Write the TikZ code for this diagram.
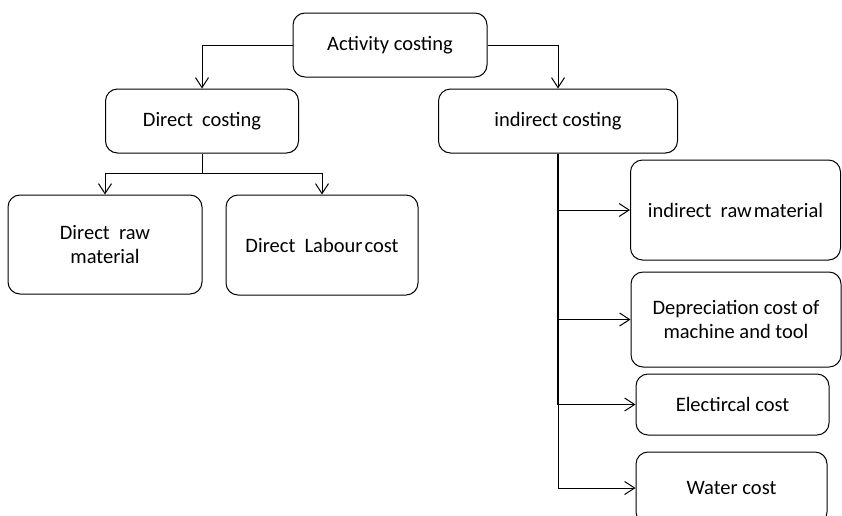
\documentclass[tikz,border=0pt]{standalone}
\usepackage{fontspec}
\setmainfont{Carlito}
\usetikzlibrary{arrows.meta}
\tikzset{
  box/.style={draw, rounded corners=12pt, line width=1pt, align=center, inner sep=0pt},
  arr/.style={-{Straight Barb[length=10pt,width=13pt]}, line width=1pt}
}

\begin{document}
\begin{tikzpicture}[x=1pt,y=-1pt,font=\fontsize{20.5}{24}\selectfont]
\useasboundingbox (0,0) rectangle (842,515);
\clip (0,0) rectangle (842,515);
% top level
\node[box,minimum width=194pt,minimum height=64pt] (act) at (390,45) {Activity costing};
\node[box,minimum width=193pt,minimum height=64pt] (dir) at (202,121) {Direct\ \ costing};
\node[box,minimum width=239pt,minimum height=64pt] (ind) at (558,121) {indirect costing};
% direct branch
\node[box,minimum width=194pt,minimum height=99pt] (drm) at (105,244.5) {Direct\ \ raw\\material};
\node[box,minimum width=192pt,minimum height=100pt] (dlc) at (322,245) {Direct\ \ Labour\kern2pt cost};
% indirect branch
\node[box,minimum width=210pt,minimum height=100pt] (irm) at (735.5,210) {indirect\ \ raw\kern2pt material};
\node[box,minimum width=210pt,minimum height=95pt] (dep) at (736,319.5) {Depreciation cost of\\machine and tool};
\node[box,minimum width=193pt,minimum height=61pt] (ele) at (732.5,404.5) {Electircal cost};
\node[box,minimum width=191pt,minimum height=72pt] (wat) at (731.5,488) {Water cost};

\draw[arr] (act.west) -| (dir.north);
\draw[arr] (act.east) -| (ind.north);

\coordinate (dsplit) at (dir.south |- 0,173);
\draw[line width=1pt] (dir.south) -- (dsplit);
\draw[arr] (dsplit) -| (drm.north);
\draw[arr] (dsplit) -| (dlc.north);

\coordinate (t1) at (ind.south |- irm.west);
\coordinate (t2) at (ind.south |- dep.west);
\coordinate (t3) at (ind.south |- ele.west);
\coordinate (t4) at (ind.south |- wat.west);
\draw[line width=2.5pt] (ind.south) -- (t3);
\draw[line width=1pt] (t3) -- (t4);
\draw[arr] (t1) -- (irm.west);
\draw[arr] (t2) -- (dep.west);
\draw[arr] (t3) -- (ele.west);
\draw[arr] (t4) -- (wat.west);
\end{tikzpicture}
\end{document}
